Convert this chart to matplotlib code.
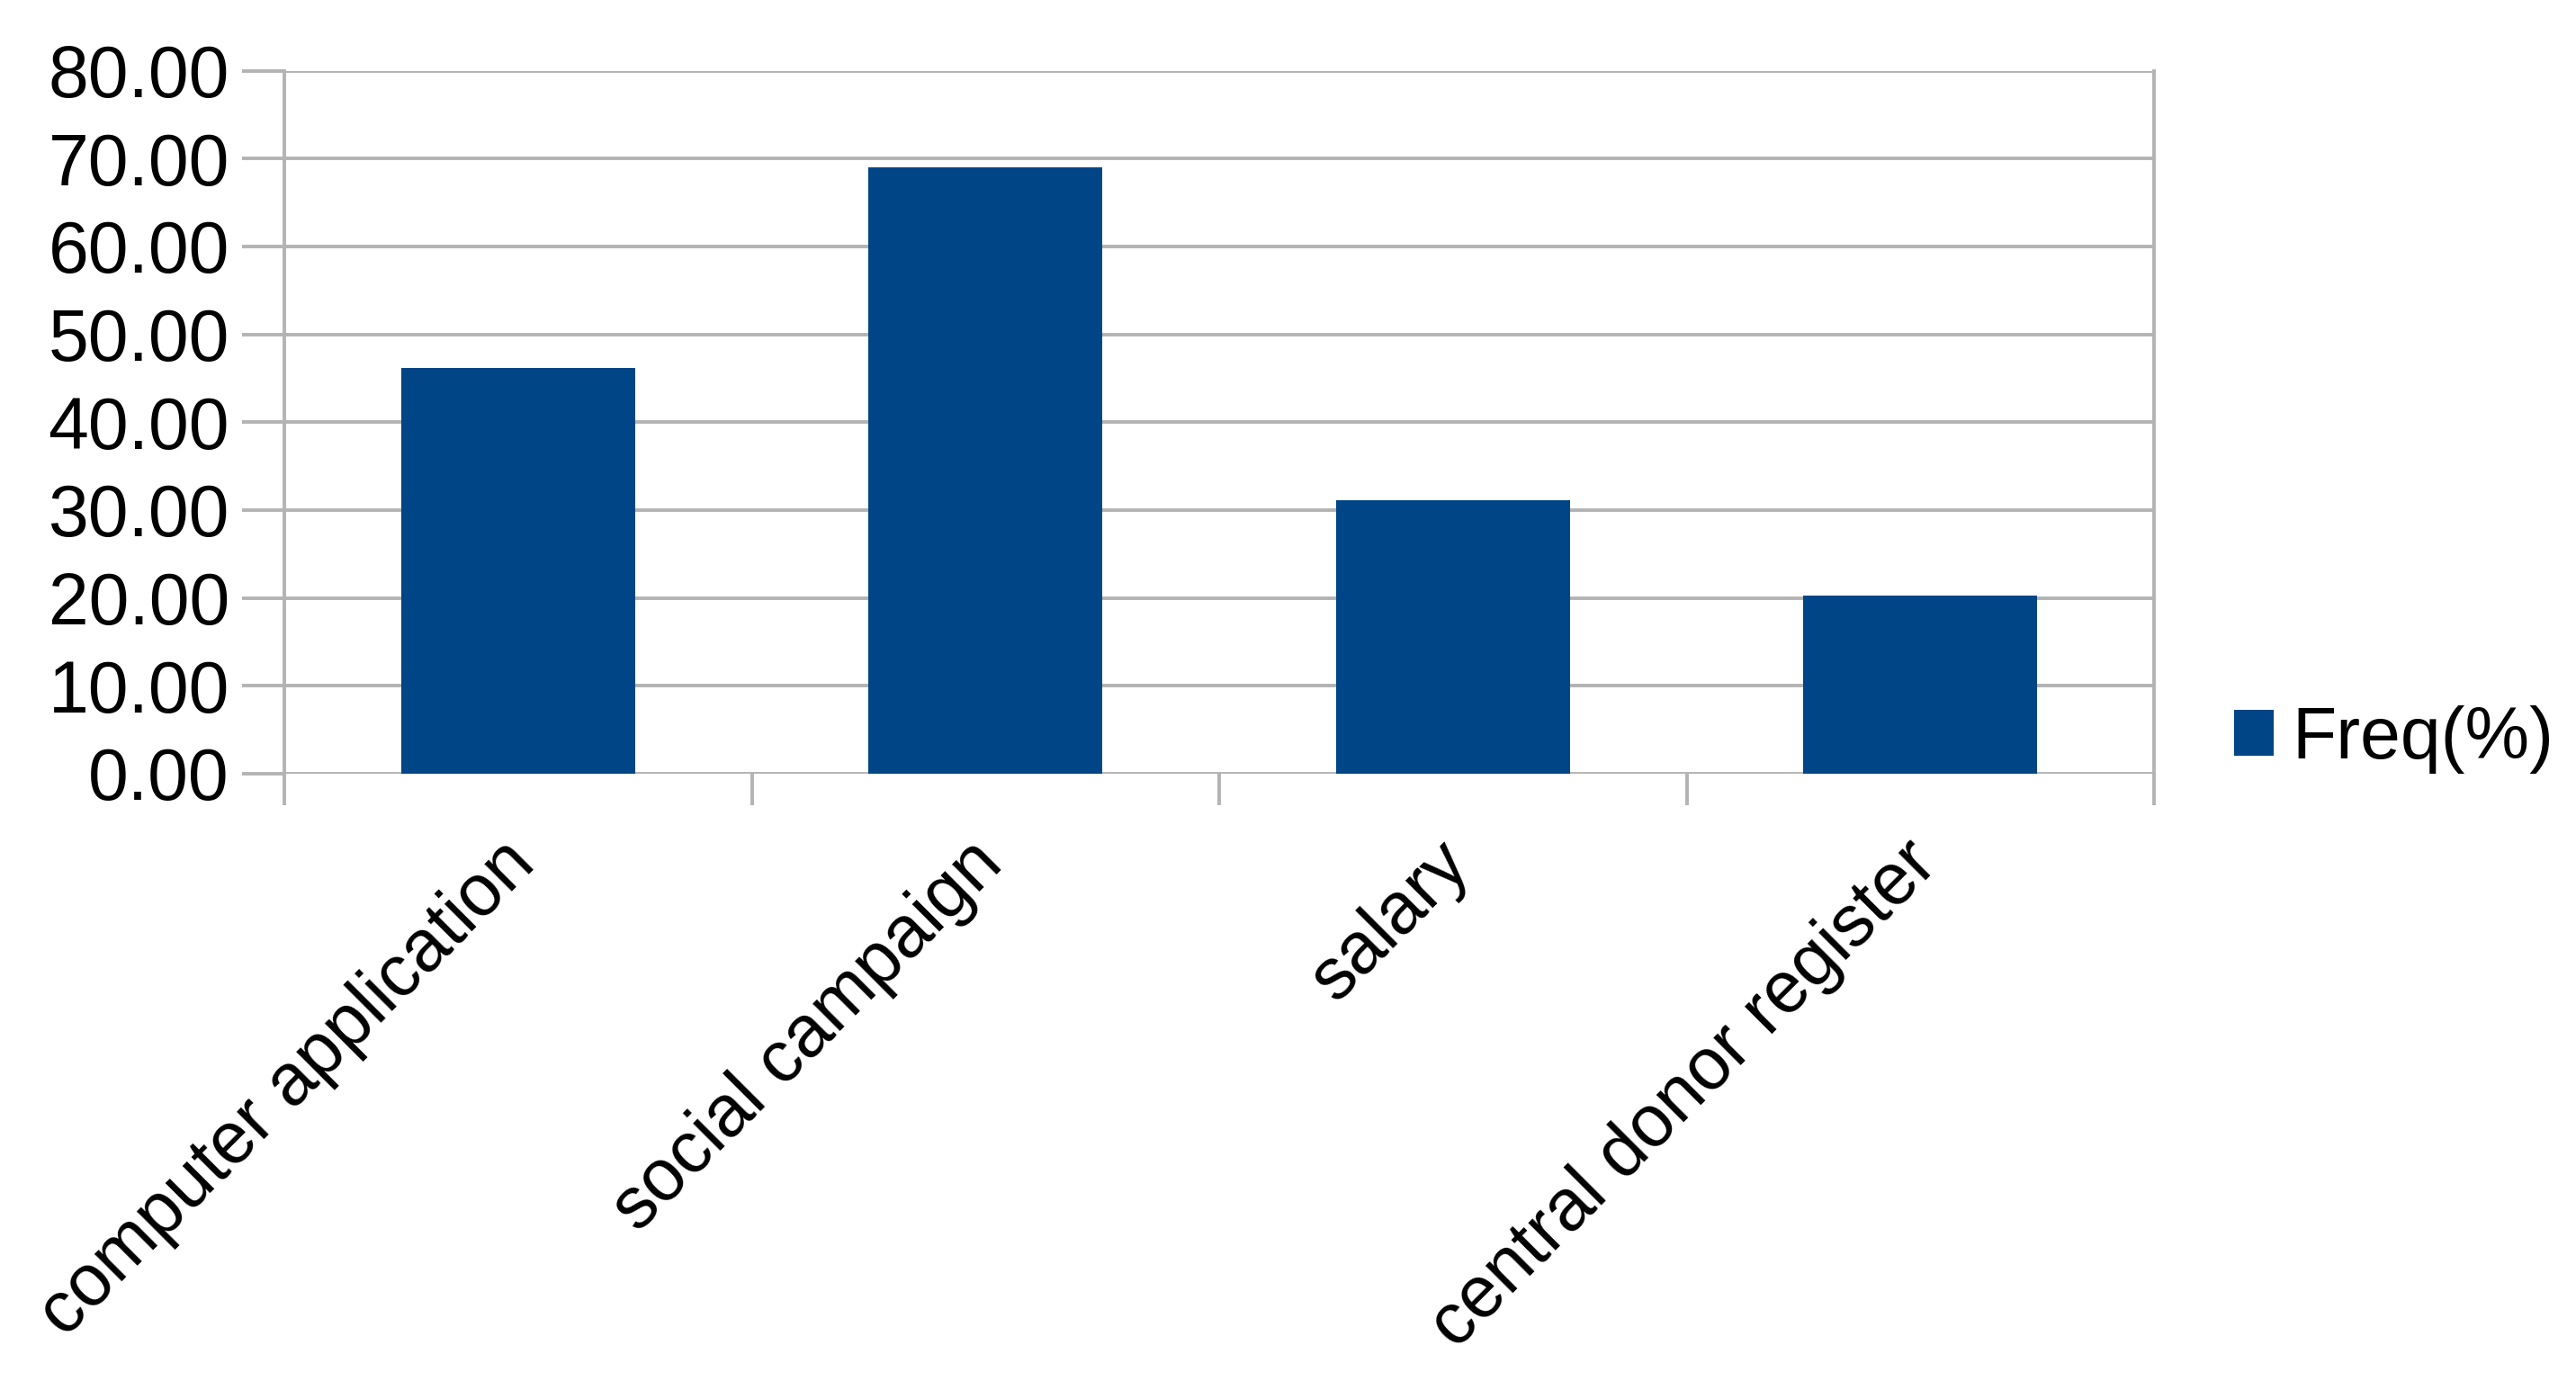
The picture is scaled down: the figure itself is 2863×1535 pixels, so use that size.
import matplotlib
matplotlib.use("Agg")
import matplotlib.pyplot as plt
import matplotlib.transforms as mtransforms
from matplotlib.ticker import FixedLocator, FuncFormatter

categories = ["computer application", "social campaign", "salary", "central donor register"]
freq = [46.2, 69.0, 31.1, 20.3]
series_name = "Freq(%)"
yticks = [0, 10, 20, 30, 40, 50, 60, 70, 80]

W, H = 2863, 1535
fig = plt.figure(figsize=(W / 100, H / 100), dpi=100)
plt.rcParams['font.family'] = ['Liberation Sans', 'DejaVu Sans']

left, right, top, bottom = 316, 2394, 78.5, 860
ax = fig.add_axes([left / W, 1 - bottom / H, (right - left) / W, (bottom - top) / H])

bar_color = "#004586"
grid_color = "#b3b3b3"
fs = 58

x = list(range(len(categories)))
ax.bar(x, freq, width=0.5, color=bar_color, label=series_name, zorder=3)
ax.set_xlim(-0.5, len(categories) - 0.5)
ax.set_ylim(0, 80)

ax.set_yticks(yticks)
ax.yaxis.set_major_formatter(FuncFormatter(lambda v, p: f"{v:.2f}"))
ax.grid(axis='y', color=grid_color, linewidth=2.8, zorder=0)
ax.tick_params(axis='y', length=34, width=2.8, color=grid_color, labelsize=fs, pad=10, direction='out')

# x: ticks at boundaries, labels at centres
ax.xaxis.set_major_locator(FixedLocator([i - 0.5 for i in range(len(categories) + 1)]))
ax.xaxis.set_major_formatter(FuncFormatter(lambda v, p: ""))
ax.xaxis.set_minor_locator(FixedLocator(x))
ax.set_xticklabels(categories, minor=True)
ax.tick_params(axis='x', which='major', length=25, width=2.8, color=grid_color, direction='out')
ax.tick_params(axis='x', which='minor', length=0, labelsize=fs, pad=44)
offset = mtransforms.ScaledTranslation(-20 / 100, 0, fig.dpi_scale_trans)
for lbl in ax.get_xticklabels(minor=True):
    lbl.set_rotation(45)
    lbl.set_ha('right')
    lbl.set_va('top')
    lbl.set_rotation_mode('anchor')
    lbl.set_transform(lbl.get_transform() + offset)

for side in ['left', 'right', 'top', 'bottom']:
    ax.spines[side].set_color(grid_color)
    ax.spines[side].set_linewidth(2.8)
ax.spines['top'].set_visible(False)
ax.spines['bottom'].set_visible(False)

fig.legend(loc='center left', bbox_to_anchor=(2483 / W, 1 - 822 / H), frameon=False,
           fontsize=fs, handlelength=0.55, handleheight=0.6, handletextpad=0.25,
           borderpad=0, borderaxespad=0)

fig.savefig("out.png", dpi=100, facecolor='white')
